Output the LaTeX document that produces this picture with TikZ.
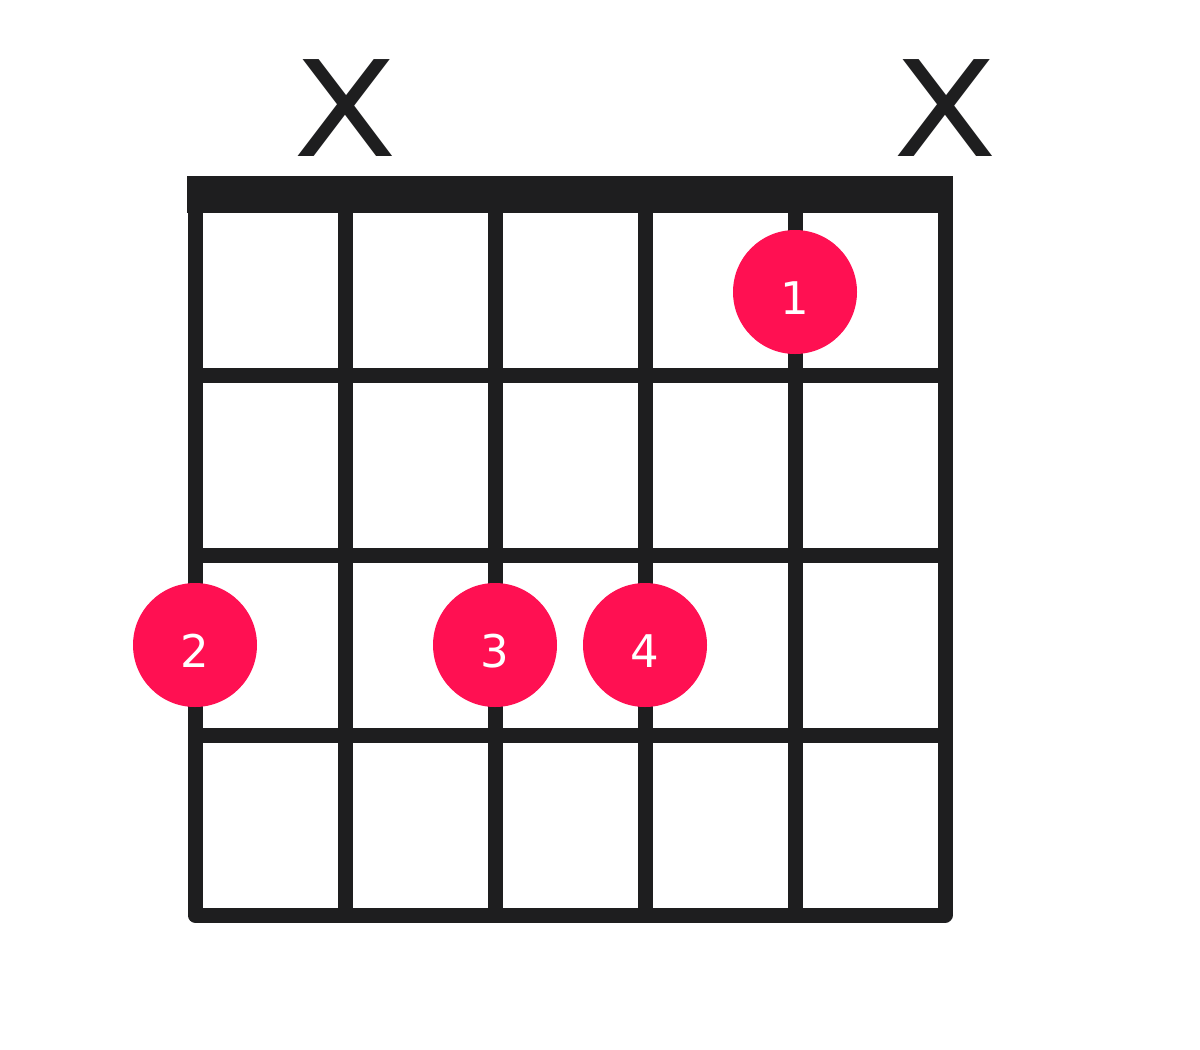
\documentclass[tikz,border=0pt]{standalone}
\usepackage{fontspec}
\setmainfont{DejaVu Sans}
\definecolor{gridgray}{HTML}{1E1E1F}
\definecolor{fingerred}{HTML}{FF1052}
\tikzset{
  gridline/.style={draw=gridgray,line width=15pt},
  finger/.style={circle,fill=fingerred,minimum size=124pt,inner sep=0pt,
    text=white,font=\fontsize{45}{45}\selectfont,text height=45pt,text depth=0pt},
  mute/.style={text=gridgray,inner sep=0pt,font=\fontsize{133}{133}\selectfont}
}
\begin{document}
\begin{tikzpicture}[x=1pt,y=-1pt]

          \useasboundingbox (0,0) rectangle (1200,1050);

          % strings
          \draw[gridline] (345,195) -- (345,915);
          \draw[gridline] (495,195) -- (495,915);
          \draw[gridline] (645,195) -- (645,915);
          \draw[gridline] (795,195) -- (795,915);

          % frets
          \draw[gridline] (195,375) -- (945,375);
          \draw[gridline] (195,555) -- (945,555);
          \draw[gridline] (195,735) -- (945,735);

          % frame
          \draw[gridline,line join=round] (195,195) -- (195,915) -- (945,915) -- (945,195);

          % nut
          \fill[gridgray] (187,176) rectangle (953,213);

          \begin{scope}[every node/.style={mute}]
            \node (m1) at (345,108) {\scalebox{1.14}[1]{X}};
            \node (m6) at (945,108) {\scalebox{1.14}[1]{X}};
          \end{scope}

          \begin{scope}[every node/.style={finger}]
            \node (f1) at (795,292) {1};
            \node (f2) at (195,645) {2};
            \node (f3) at (495,645) {3};
            \node (f4) at (645,645) {4};
          \end{scope}

        \end{tikzpicture}
\end{document}
